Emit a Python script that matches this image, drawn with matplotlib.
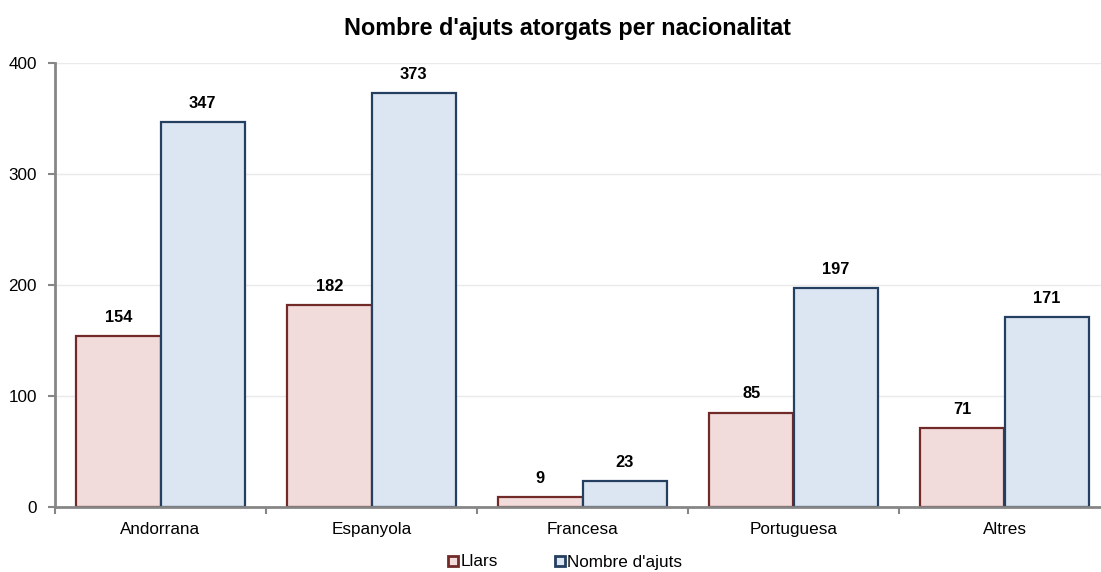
import matplotlib.pyplot as plt
from matplotlib.lines import Line2D
import numpy as np

plt.rcParams['font.family'] = ['Liberation Sans', 'DejaVu Sans']

# --- data ---
nacionalitats = ['Andorrana', 'Espanyola', 'Francesa', 'Portuguesa', 'Altres']
llars = [154, 182, 9, 85, 71]
nombre_ajuts = [347, 373, 23, 197, 171]

pink_fc, pink_ec = '#F2DCDB', '#722A28'
blue_fc, blue_ec = '#DCE6F2', '#243F60'
axis_grey = '#868686'

fig = plt.figure(figsize=(11.01, 5.72), dpi=100)
ax = fig.add_axes([55 / 1101, 65 / 572, 1055 / 1101, 444 / 572])

x = np.arange(len(nacionalitats))
w = 0.4
b1 = ax.bar(x - w / 2, llars, w, color=pink_fc, edgecolor=pink_ec, linewidth=1.6, zorder=3)
b2 = ax.bar(x + w / 2, nombre_ajuts, w, color=blue_fc, edgecolor=blue_ec, linewidth=1.6, zorder=3)

for bars, vals in [(b1, llars), (b2, nombre_ajuts)]:
    for rect, v in zip(bars, vals):
        ax.annotate(str(v), (rect.get_x() + rect.get_width() / 2, v),
                    xytext=(0, 13.5), textcoords='offset points',
                    ha='center', va='center', fontsize=11.8, fontweight='bold')

ax.set_xlim(-0.5, len(nacionalitats) - 0.5)
ax.set_ylim(0, 400)
ax.set_yticks([0, 100, 200, 300, 400])
ax.set_xticks(x)
ax.set_xticklabels(nacionalitats, fontsize=12.3)
ax.set_xticks(np.arange(-0.5, len(nacionalitats)), minor=True)
ax.tick_params(axis='x', which='major', length=0, pad=10.5)
ax.tick_params(axis='x', which='minor', length=5, width=1.5, color=axis_grey)
ax.tick_params(axis='y', length=5, width=1.5, color=axis_grey, labelsize=12.3, pad=8)

ax.grid(axis='y', color='#EAEAEA', linewidth=1, zorder=0)
for side in ['top', 'right']:
    ax.spines[side].set_visible(False)
for side in ['left', 'bottom']:
    ax.spines[side].set_color(axis_grey)
    ax.spines[side].set_linewidth(2)
    ax.spines[side].set_zorder(4)

fig.text(567 / 1101, 1 - 28 / 572, "Nombre d'ajuts atorgats per nacionalitat",
         ha='center', va='center', fontsize=16.8, fontweight='bold')

handles = [
    Line2D([], [], marker='s', linestyle='none', markersize=7.5,
           markerfacecolor=pink_fc, markeredgecolor=pink_ec, markeredgewidth=2),
    Line2D([], [], marker='s', linestyle='none', markersize=7.5,
           markerfacecolor=blue_fc, markeredgecolor=blue_ec, markeredgewidth=2),
]
fig.legend(handles, ['Llars', "Nombre d'ajuts"], loc='center',
           bbox_to_anchor=(565 / 1101, 1 - 562 / 572), ncol=2, frameon=False,
           fontsize=12.3, handlelength=0.6, handletextpad=0.15, columnspacing=3.3,
           borderpad=0)

fig.savefig('out.png', dpi=100)
